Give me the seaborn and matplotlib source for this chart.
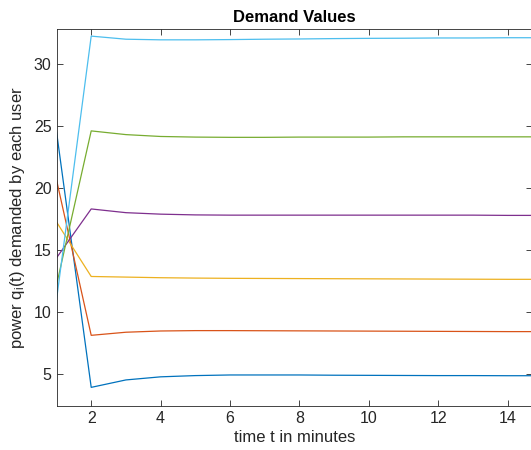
import numpy as np
import pandas as pd
import matplotlib
matplotlib.use("Agg")
import matplotlib.pyplot as plt
import seaborn as sns

time = list(range(1, 16))
user1 = [24.55, 3.9, 4.5, 4.75, 4.85, 4.9, 4.9, 4.9, 4.88, 4.87, 4.86, 4.85, 4.85, 4.84, 4.84]
user2 = [20.65, 8.1, 8.35, 8.45, 8.48, 8.48, 8.47, 8.46, 8.45, 8.44, 8.43, 8.42, 8.41, 8.4, 8.4]
user3 = [17.25, 12.85, 12.8, 12.75, 12.72, 12.7, 12.69, 12.68, 12.67, 12.66, 12.65, 12.64, 12.63, 12.62, 12.62]
user4 = [14.35, 18.3, 18.0, 17.88, 17.82, 17.8, 17.8, 17.8, 17.8, 17.8, 17.8, 17.8, 17.8, 17.78, 17.78]
user5 = [12.15, 24.6, 24.3, 24.15, 24.1, 24.08, 24.08, 24.1, 24.1, 24.1, 24.12, 24.12, 24.12, 24.12, 24.12]
user6 = [10.95, 32.25, 32.0, 31.95, 31.95, 31.97, 32.0, 32.02, 32.05, 32.07, 32.08, 32.1, 32.1, 32.12, 32.12]
users = ["u1", "u2", "u3", "u4", "u5", "u6"]
colors = ["#0072BD", "#D95319", "#EDB120", "#7E2F8E", "#77AC30", "#4DBEEE"]

series = [user1, user2, user3, user4, user5, user6]
df = pd.DataFrame({
    "t": time * len(users),
    "q": sum(series, []),
    "user": sum([[u] * len(time) for u in users], []),
})

sns.set_style("ticks")
plt.rcParams["font.family"] = ["Liberation Sans", "DejaVu Sans"]
plt.rcParams["mathtext.fontset"] = "custom"
plt.rcParams["mathtext.rm"] = "Liberation Sans"
plt.rcParams["mathtext.it"] = "Liberation Sans"

fig = plt.figure(figsize=(5.31, 4.5), dpi=100)
ax = fig.add_axes([56.5 / 531, 1 - 405.7 / 450, (532 - 56.5) / 531, (405.7 - 29.3) / 450])

sns.lineplot(data=df, x="t", y="q", hue="user", palette=colors, linewidth=0.9,
             legend=False, ax=ax)

ax.set_xlim(1, 14.7)
ax.set_ylim(2.42, 32.8)
ax.set_xticks([2, 4, 6, 8, 10, 12, 14])
ax.set_yticks([5, 10, 15, 20, 25, 30])

edge = "#262626"
for s in ax.spines.values():
    s.set_visible(True)
    s.set_color(edge)
    s.set_linewidth(0.6)
ax.tick_params(direction="in", length=4, width=0.6, colors=edge, labelsize=11.5,
               top=True, right=True, labelcolor=edge)

ax.set_title("Demand Values", fontsize=12, fontweight="bold", color="black", pad=5)
ax.set_xlabel("time t in minutes", fontsize=12, color=edge, labelpad=3)
ax.set_ylabel(r"power q$_{\mathregular{i}}$(t) demanded by each user", fontsize=12,
              color=edge, labelpad=5)

fig.savefig("out.png", dpi=100)
